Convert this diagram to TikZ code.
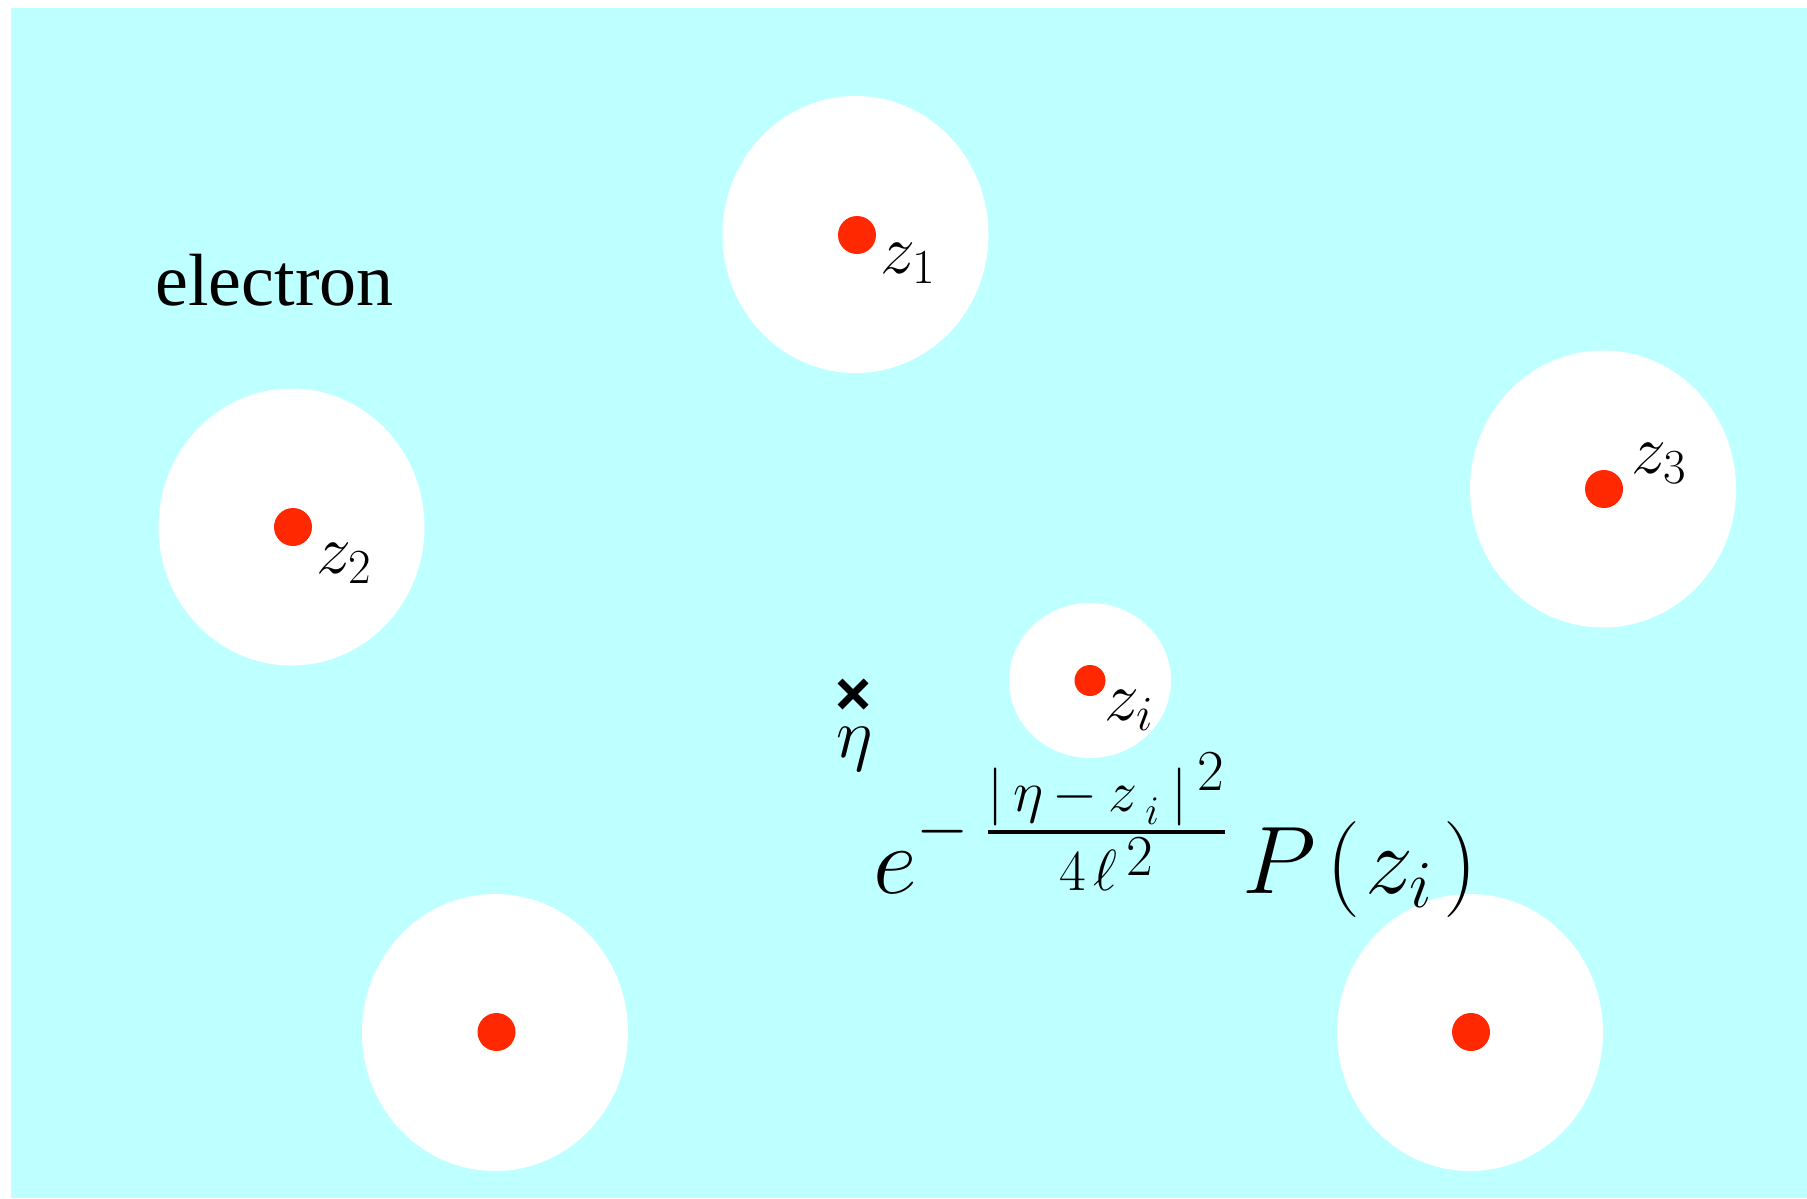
\RequirePackage{fix-cm}
\documentclass[tikz,border=0pt]{standalone}
\usepackage{amsmath}
\usepackage{fontspec}
\newfontfamily\timesfont{Liberation Serif}
\usetikzlibrary{shapes.geometric,shapes.misc}
\definecolor{bgcyan}{RGB}{190,255,255}
\definecolor{dotred}{RGB}{255,40,0}
\newcommand\fnumbox{\hbox{\fontsize{29}{35}\selectfont$|\kern5pt\eta\kern4.5pt\mathord{-}\kern5.5pt z_{\kern5pt\lower2.5pt\hbox{$\scriptstyle i$}}\kern6pt|^{\kern4.5pt\textstyle 2}$}}
\newcommand\fdenbox{\hbox{\fontsize{29}{35}\selectfont$4\kern4pt\ell\kern4.5pt\raisebox{7.5pt}{$2$}$}}
\begin{document}
\begin{tikzpicture}[x=0.5pt,y=-0.5pt,
  hole/.style={ellipse,fill=white,draw=none,inner sep=0pt,minimum width=133pt,minimum height=138.5pt},
  smallhole/.style={ellipse,fill=white,draw=none,inner sep=0pt,minimum width=81pt,minimum height=77.5pt},
  dot/.style={circle,fill=dotred,draw=none,inner sep=0pt,minimum size=19pt},
  smalldot/.style={circle,fill=dotred,draw=none,inner sep=0pt,minimum size=15.5pt},
  lbl/.style={anchor=base west,inner sep=0pt,font=\fontsize{35}{42}\selectfont},
  crossmark/.style={cross out,draw=black,line width=3.5pt,minimum size=9.5pt,inner sep=0pt}]
\useasboundingbox (0,0) rectangle (1807,1198);
\fill[bgcyan] (11,8) rectangle (1807,1198);
% holes
\node[hole] (h1) at (855.5,234.5) {};
\node[hole] (h2) at (291.5,527) {};
\node[hole] (h3) at (1603,489) {};
\node[hole] (h4) at (495,1032.5) {};
\node[hole] (h5) at (1470,1032.5) {};
\node[smallhole] (hi) at (1090,680.5) {};
% particles
\node[dot] (p1) at (857,235) {};
\node[dot] (p2) at (293,527) {};
\node[dot] (p3) at (1604,489) {};
\node[dot] (p4) at (496.5,1032) {};
\node[dot] (p5) at (1471,1032) {};
\node[smalldot] (pi) at (1090,680.5) {};
% labels
\node[lbl] (l1) at (880,273) {$z_1$};
\node[lbl] (l2) at (316,573) {$z_2$};
\node[lbl] (l3) at (1631,473) {$z_3$};
\node[lbl] (li) at (1104,720) {$z_i$};
\node[crossmark] (eta) at (853,694) {};
\node[lbl] (etal) at (836,757) {$\eta$};
\node[anchor=base west,inner sep=0pt,font=\timesfont\fontsize{37}{44}\selectfont] (el) at (155,305) {electron};
\node[anchor=base west,inner sep=0pt,font=\fontsize{48}{58}\selectfont] (form) at (873,893)
  {$e^{\raisebox{4.8pt}[\height][0pt]{$\scriptstyle-\kern8pt\genfrac{}{}{2pt}{}{\fnumbox}{\fdenbox}$}}\kern7pt P\kern5.5pt(\kern2.5pt z_i\kern5.5pt)$};
\end{tikzpicture}
\end{document}
